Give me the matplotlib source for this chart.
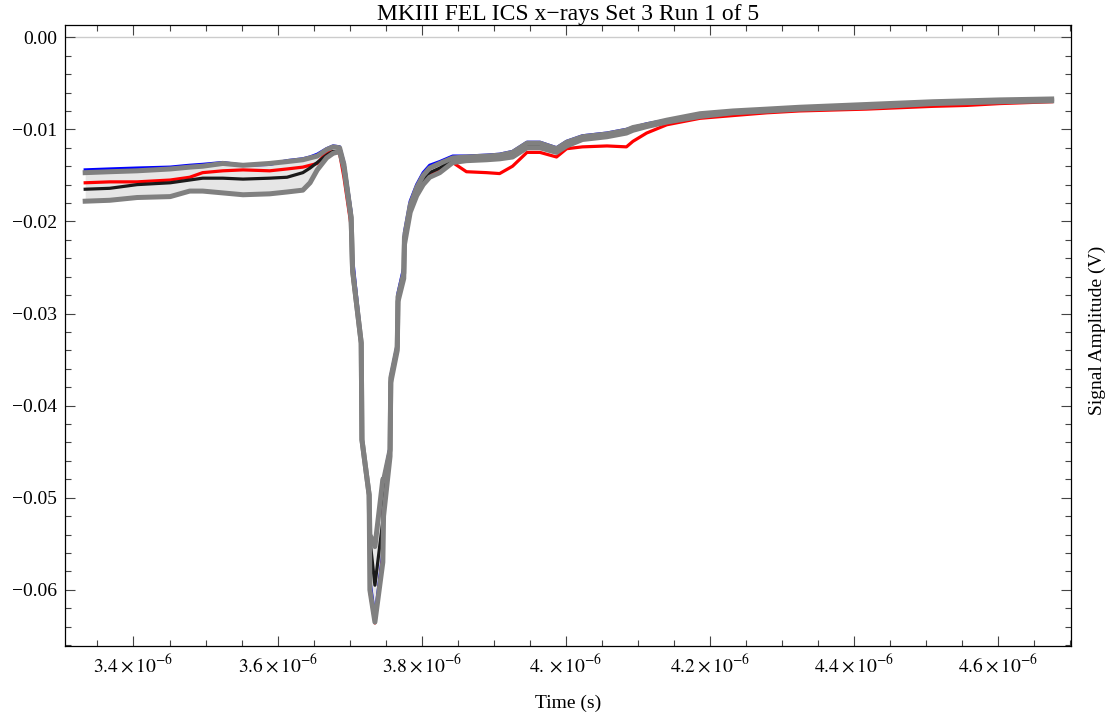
import numpy as np
import matplotlib
matplotlib.use('Agg')
import matplotlib.pyplot as plt
from matplotlib.ticker import FixedLocator, FixedFormatter, MultipleLocator

plt.rcParams['font.family'] = ['Liberation Serif', 'DejaVu Serif']
plt.rcParams['mathtext.fontset'] = 'stix'

# time axis in microseconds
time_us = [3.333, 3.367, 3.405, 3.451, 3.478, 3.496, 3.524, 3.552, 3.589, 3.613,
           3.635, 3.645, 3.655, 3.668, 3.677, 3.686, 3.692, 3.702, 3.704, 3.716,
           3.717, 3.727, 3.728, 3.735, 3.746, 3.747, 3.756, 3.757, 3.766, 3.767,
           3.775, 3.776, 3.784, 3.793, 3.802, 3.811, 3.825, 3.843, 3.862, 3.890,
           3.908, 3.926, 3.946, 3.964, 3.987, 4.001, 4.023, 4.057, 4.084, 4.093,
           4.112, 4.140, 4.186, 4.232, 4.279, 4.324, 4.417, 4.509, 4.556, 4.602,
           4.674]

# signal amplitudes (V)
blue = [-0.0144, -0.0143, -0.0142, -0.0141, -0.0139, -0.0138, -0.0136, -0.0139, -0.0138, -0.0134,
        -0.0132, -0.0130, -0.0127, -0.0121, -0.0118, -0.0119, -0.0136, -0.0190, -0.0240, -0.0330,
        -0.0435, -0.0497, -0.0590, -0.0630, -0.0560, -0.0481, -0.0445, -0.0368, -0.0334, -0.0278,
        -0.0250, -0.0212, -0.0178, -0.0160, -0.0147, -0.0139, -0.0135, -0.0129, -0.0129, -0.0128,
        -0.0127, -0.0124, -0.0114, -0.0114, -0.0120, -0.0113, -0.0107, -0.0104, -0.0100, -0.0098,
        -0.0094, -0.0090, -0.0084, -0.0081, -0.0079, -0.0077, -0.0075, -0.0072, -0.0071, -0.0069,
        -0.0068]

red = [-0.0158, -0.0157, -0.0157, -0.0155, -0.0152, -0.0147, -0.0145, -0.0144, -0.0145, -0.0143,
       -0.0141, -0.0139, -0.0137, -0.0125, -0.0124, -0.0126, -0.0152, -0.0205, -0.0258, -0.0335,
       -0.0440, -0.0500, -0.0602, -0.0636, -0.0565, -0.0481, -0.0452, -0.0372, -0.0340, -0.0285,
       -0.0260, -0.0222, -0.0188, -0.0170, -0.0157, -0.0149, -0.0143, -0.0136, -0.0146, -0.0147,
       -0.0148, -0.0140, -0.0125, -0.0125, -0.0130, -0.0121, -0.0119, -0.0118, -0.0119, -0.0113,
       -0.0104, -0.0095, -0.0088, -0.0085, -0.0082, -0.0080, -0.0078, -0.0075, -0.0074, -0.0072,
       -0.0070]

mean = [-0.0165, -0.0164, -0.0160, -0.0158, -0.0155, -0.0153, -0.0153, -0.0154, -0.0153, -0.0152,
        -0.0147, -0.0142, -0.0136, -0.0128, -0.0124, -0.0124, -0.0140, -0.0196, -0.0253, -0.0332,
        -0.0437, -0.0497, -0.0545, -0.0595, -0.0525, -0.0481, -0.0450, -0.0372, -0.0338, -0.0284,
        -0.0258, -0.0220, -0.0186, -0.0167, -0.0155, -0.0147, -0.0142, -0.0133, -0.0132, -0.0131,
        -0.0130, -0.0127, -0.0117, -0.0117, -0.0123, -0.0116, -0.0109, -0.0106, -0.0102, -0.0099,
        -0.0096, -0.0091, -0.0084, -0.0081, -0.0079, -0.0077, -0.0075, -0.0071, -0.0070, -0.0069,
        -0.0068]

upper = [-0.0147, -0.0146, -0.0145, -0.0143, -0.0141, -0.0140, -0.0137, -0.0139, -0.0137, -0.0135,
         -0.0133, -0.0131, -0.0129, -0.0122, -0.0119, -0.0120, -0.0138, -0.0196, -0.0253, -0.0332,
         -0.0437, -0.0497, -0.0540, -0.0553, -0.0480, -0.0481, -0.0448, -0.0370, -0.0336, -0.0282,
         -0.0256, -0.0217, -0.0182, -0.0163, -0.0150, -0.0142, -0.0137, -0.0131, -0.0130, -0.0129,
         -0.0128, -0.0125, -0.0115, -0.0115, -0.0121, -0.0114, -0.0108, -0.0105, -0.0101, -0.0098,
         -0.0095, -0.0090, -0.0083, -0.0080, -0.0078, -0.0076, -0.0073, -0.0070, -0.0069, -0.0068,
         -0.0067]

lower = [-0.0178, -0.0177, -0.0174, -0.0173, -0.0167, -0.0167, -0.0169, -0.0171, -0.0170, -0.0168,
         -0.0166, -0.0158, -0.0144, -0.0131, -0.0126, -0.0124, -0.0142, -0.0196, -0.0253, -0.0332,
         -0.0437, -0.0497, -0.0600, -0.0635, -0.0570, -0.0520, -0.0455, -0.0375, -0.0340, -0.0287,
         -0.0262, -0.0225, -0.0190, -0.0172, -0.0160, -0.0152, -0.0147, -0.0136, -0.0134, -0.0133,
         -0.0132, -0.0130, -0.0120, -0.0120, -0.0125, -0.0118, -0.0111, -0.0108, -0.0104, -0.0101,
         -0.0097, -0.0092, -0.0086, -0.0082, -0.0080, -0.0078, -0.0076, -0.0072, -0.0071, -0.0070,
         -0.0069]

xtick_vals = [3.4, 3.6, 3.8, 4.0, 4.2, 4.4, 4.6]
xtick_text = ['3.4', '3.6', '3.8', '4.', '4.2', '4.4', '4.6']
ytick_vals = [0.0, -0.01, -0.02, -0.03, -0.04, -0.05, -0.06]
ytick_text = ['0.00', '\u22120.01', '\u22120.02', '\u22120.03', '\u22120.04', '\u22120.05', '\u22120.06']

t = np.array(time_us) * 1e-6

fig = plt.figure(figsize=(11.14, 7.17), dpi=100)
ax = fig.add_axes([0.05835, 0.09902, 0.90278, 0.86569])

ax.axhline(0, color='#cccccc', lw=1.0, zorder=0.5)
ax.fill_between(t, lower, upper, color='#e6e6e6', lw=0, zorder=1)
ax.plot(t, blue, color='#0000ff', lw=2.3, zorder=2)
ax.plot(t, red, color='#ff0000', lw=2.3, zorder=2.1)
ax.plot(t, mean, color='#1a1a1a', lw=2.3, zorder=2.2)
ax.plot(t, upper, color='#808080', lw=3.6, zorder=3)
ax.plot(t, lower, color='#808080', lw=3.6, zorder=3)

ax.set_xlim(3.305e-6, 4.7004e-6)
ax.set_ylim(-0.0661, 0.0013)

ax.xaxis.set_major_locator(FixedLocator([v * 1e-6 for v in xtick_vals]))
ax.xaxis.set_major_formatter(FixedFormatter([r'$%s\times10^{-6}$' % s for s in xtick_text]))
ax.xaxis.set_minor_locator(MultipleLocator(0.05e-6))
ax.yaxis.set_major_locator(FixedLocator(ytick_vals))
ax.yaxis.set_major_formatter(FixedFormatter(ytick_text))
ax.yaxis.set_minor_locator(MultipleLocator(0.002))

ax.tick_params(which='both', direction='in', top=True, right=True, color='#444444', width=0.8)
ax.tick_params(which='major', length=7)
ax.tick_params(which='minor', length=4.3)
ax.tick_params(axis='y', labelsize=14, pad=5.5)
ax.tick_params(axis='x', labelsize=14, pad=5.5)
for sp in ax.spines.values():
    sp.set_linewidth(0.9)

fig.text(0.5099, 1 - 20 / 717, 'MKIII FEL ICS x\u2212rays Set 3 Run 1 of 5', ha='center', va='baseline', fontsize=17)
fig.text(0.5099, 1 - 703 / 717, 'Time (s)', ha='center', va='center', fontsize=14)
fig.text(1097 / 1114, 1 - 330 / 717, 'Signal Amplitude (V)', ha='center', va='center', rotation=90, fontsize=14)

fig.savefig('out.png', dpi=100)
